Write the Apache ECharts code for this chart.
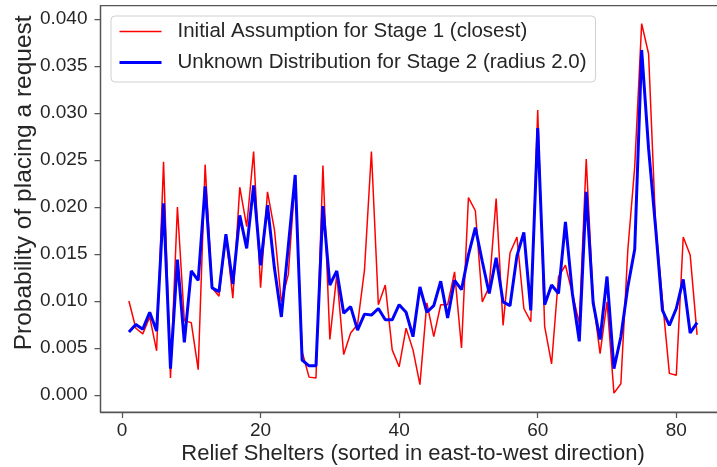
<!DOCTYPE html>
<html>
<head>
<meta charset="utf-8">
<script src="https://cdn.jsdelivr.net/npm/echarts@6/dist/echarts.min.js"></script>
<style>
  html, body { margin: 0; padding: 0; background: #ffffff; }
  #chart { width: 717px; height: 467px; }
</style>
</head>
<body>
<div id="chart"></div>
<script>
// Shelter index (sorted east-to-west)
const shelters = [
  1, 2, 3, 4, 5, 6, 7, 8, 9, 10, 11, 12, 13, 14, 15, 16, 17, 18, 19, 20,
  21, 22, 23, 24, 25, 26, 27, 28, 29, 30, 31, 32, 33, 34, 35, 36, 37, 38, 39, 40,
  41, 42, 43, 44, 45, 46, 47, 48, 49, 50, 51, 52, 53, 54, 55, 56, 57, 58, 59, 60,
  61, 62, 63, 64, 65, 66, 67, 68, 69, 70, 71, 72, 73, 74, 75, 76, 77, 78, 79, 80,
  81, 82, 83
];

// Stage 1: initial assumption (closest shelter)
const stage1 = [
  0.0100, 0.0071, 0.0065, 0.0083, 0.0047, 0.0248, 0.0018, 0.0200, 0.0079, 0.0077,
  0.0027, 0.0245, 0.0114, 0.0105, 0.0170, 0.0103, 0.0221, 0.0179, 0.0259, 0.0114,
  0.0216, 0.0176, 0.0099, 0.0128, 0.0232, 0.0046, 0.0019, 0.0018, 0.0244, 0.0059,
  0.0128, 0.0043, 0.0066, 0.0075, 0.0133, 0.0259, 0.0096, 0.0117, 0.0048, 0.0030,
  0.0071, 0.0048, 0.0011, 0.0098, 0.0062, 0.0096, 0.0096, 0.0131, 0.0050, 0.0210,
  0.0196, 0.0099, 0.0115, 0.0209, 0.0074, 0.0151, 0.0168, 0.0092, 0.0078, 0.0303,
  0.0073, 0.0033, 0.0126, 0.0138, 0.0108, 0.0076, 0.0251, 0.0101, 0.0044, 0.0099,
  0.0002, 0.0012, 0.0154, 0.0243, 0.0395, 0.0363, 0.0183, 0.0101, 0.0023, 0.0021,
  0.0168, 0.0149, 0.0064
];

// Stage 2: unknown distribution (radius 2.0)
const stage2 = [
  0.0067, 0.0075, 0.0070, 0.0088, 0.0068, 0.0204, 0.0028, 0.0144, 0.0056, 0.0132,
  0.0122, 0.0222, 0.0114, 0.0110, 0.0171, 0.0118, 0.0191, 0.0156, 0.0223, 0.0138,
  0.0202, 0.0135, 0.0083, 0.0158, 0.0234, 0.0037, 0.0031, 0.0031, 0.0201, 0.0117,
  0.0132, 0.0087, 0.0094, 0.0069, 0.0086, 0.0085, 0.0092, 0.0080, 0.0080, 0.0096,
  0.0088, 0.0062, 0.0115, 0.0088, 0.0095, 0.0121, 0.0082, 0.0122, 0.0112, 0.0149,
  0.0178, 0.0142, 0.0108, 0.0146, 0.0099, 0.0095, 0.0148, 0.0173, 0.0090, 0.0284,
  0.0096, 0.0117, 0.0108, 0.0184, 0.0108, 0.0057, 0.0216, 0.0098, 0.0059, 0.0126,
  0.0028, 0.0062, 0.0115, 0.0155, 0.0367, 0.0262, 0.0179, 0.0090, 0.0074, 0.0092,
  0.0123, 0.0066, 0.0077
];

const xTicks = [0, 20, 40, 60, 80];
const yTicks = [0.000, 0.005, 0.010, 0.015, 0.020, 0.025, 0.030, 0.035, 0.040];

const seriesNames = [
  'Initial Assumption for Stage 1 (closest)',
  'Unknown Distribution for Stage 2 (radius 2.0)'
];

const FONT = '"Liberation Sans", Arial, sans-serif';
const TEXT = '#262626';
const SPINE = '#555555';

const chart = echarts.init(document.getElementById('chart'), null, { renderer: 'canvas' });

chart.setOption({
  animation: false,
  backgroundColor: '#ffffff',
  textStyle: { fontFamily: FONT },
  grid: {
    left: 100.5, top: 5.7, width: 625, height: 406.3,
    outerBoundsMode: 'none',
    containLabel: false,
    show: true, borderColor: SPINE, borderWidth: 1.25, backgroundColor: 'transparent'
  },
  legend: {
    orient: 'vertical',
    left: 111, top: 16,
    padding: [5, 9, 9, 7],
    itemGap: 10,
    itemWidth: 42, itemHeight: 14,
    backgroundColor: 'rgba(255,255,255,0.8)',
    borderColor: '#d0d0d0', borderWidth: 1, borderRadius: 4,
    itemStyle: { opacity: 0 },
    textStyle: { fontSize: 20.5, lineHeight: 20, color: TEXT, fontFamily: FONT, padding: [0, 0, 0, 11] },
    data: [
      { name: seriesNames[0], lineStyle: { width: 1.5 } },
      { name: seriesNames[1], lineStyle: { width: 3 } }
    ]
  },
  xAxis: {
    type: 'value', min: -3.1, max: 87.1,
    name: 'Relief Shelters (sorted in east-to-west direction)',
    nameLocation: 'middle', nameGap: 31,
    nameMoveOverlap: false,
    nameTextStyle: { fontSize: 22, color: TEXT, fontFamily: FONT },
    axisLine: { show: true, onZero: false, lineStyle: { color: SPINE, width: 1.25 } },
    axisTick: { show: true, customValues: xTicks, length: 6, lineStyle: { color: SPINE, width: 1.25 } },
    axisLabel: { customValues: xTicks, fontSize: 19, color: TEXT, margin: 9, fontFamily: FONT },
    splitLine: { show: false }
  },
  yAxis: {
    type: 'value', min: -0.00181, max: 0.04141,
    name: 'Probability of placing a request',
    nameLocation: 'middle', nameGap: 64,
    nameMoveOverlap: false,
    nameTextStyle: { fontSize: 24.5, color: TEXT, fontFamily: FONT, padding: [0, 0, 0, 52] },
    axisLine: { show: true, onZero: false, lineStyle: { color: SPINE, width: 1.25 } },
    axisTick: { show: true, customValues: yTicks, length: 6, lineStyle: { color: SPINE, width: 1.25 } },
    axisLabel: {
      customValues: yTicks, fontSize: 19, color: TEXT, margin: 13, fontFamily: FONT,
      formatter: v => v.toFixed(3)
    },
    splitLine: { show: false }
  },
  series: [
    {
      name: seriesNames[0], type: 'line', symbol: 'none',
      data: shelters.map((s, k) => [s, stage1[k]]),
      lineStyle: { color: '#ff0000', width: 1.5 },
      itemStyle: { color: '#ff0000' },
      z: 2
    },
    {
      name: seriesNames[1], type: 'line', symbol: 'none',
      data: shelters.map((s, k) => [s, stage2[k]]),
      lineStyle: { color: '#0000ff', width: 3 },
      itemStyle: { color: '#0000ff' },
      z: 3
    }
  ]
});
</script>
</body>
</html>
